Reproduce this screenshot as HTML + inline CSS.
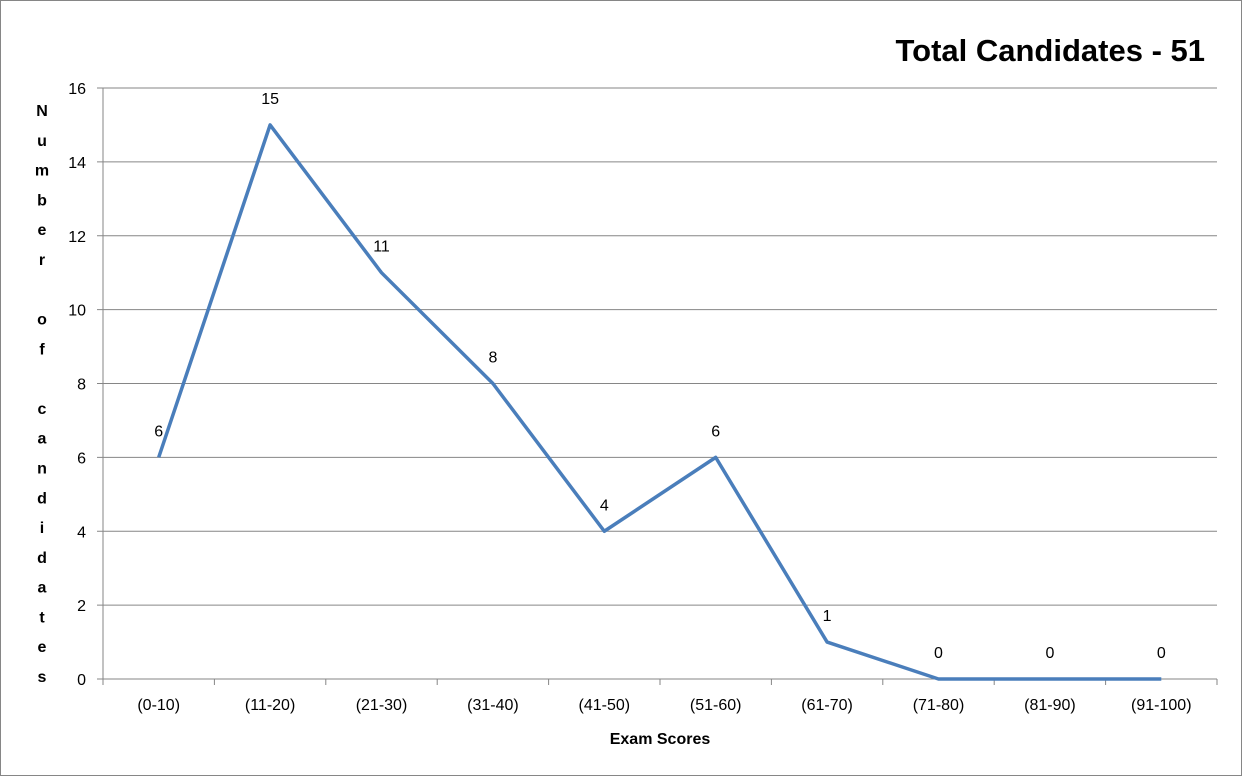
<!DOCTYPE html>
<html><head><meta charset="utf-8"><style>
body{margin:0;background:#fff}
svg{display:block;font-family:"Liberation Sans",sans-serif}
</style></head><body>
<svg id="c" width="1242" height="776">
<rect x="0.5" y="0.5" width="1241" height="775" fill="#fff" stroke="#868686"/>
<text x="1205" y="61" text-anchor="end" font-size="31" font-weight="bold">Total Candidates - 51</text>
<text x="660" y="744" text-anchor="middle" font-size="16" font-weight="bold">Exam Scores</text>
<g id="g"></g>
</svg>
<script>
const categories=["(0-10)","(11-20)","(21-30)","(31-40)","(41-50)","(51-60)","(61-70)","(71-80)","(81-90)","(91-100)"];
const values=[6,15,11,8,4,6,1,0,0,0];
const yTicks=[0,2,4,6,8,10,12,14,16];
const yTitle="Number of candidates";
const NS="http://www.w3.org/2000/svg",g=document.getElementById('g');
const L=103,R=1217,T=88,B=679,yMax=16;
const bw=(R-L)/categories.length;
const xs=i=>L+bw*(i+0.5), ys=v=>B-(v/yMax)*(B-T);
function el(t,a,p){const e=document.createElementNS(NS,t);for(const k in a)e.setAttribute(k,a[k]);(p||g).appendChild(e);return e;}
yTicks.forEach(t=>{
 const y=ys(t);
 if(t>0){const l=el('line',{x1:L,x2:R,y1:y,y2:y,stroke:'#868686','stroke-width':1});
 
 }
 const tk=el('line',{x1:L-6,x2:L,y1:y,y2:y,stroke:'#868686'});
 
 
 const tx=el('text',{x:L-17,y:y+6,'text-anchor':'end','font-size':16});tx.textContent=t;
 
 
});
const ax=el('line',{x1:L,x2:L,y1:T,y2:B,stroke:'#868686'});


const bx=el('line',{x1:L,x2:R,y1:B,y2:B,stroke:'#868686'});


for(let i=0;i<=categories.length;i++){const x=L+bw*i;const t=el('line',{x1:x,x2:x,y1:B,y2:B+6,stroke:'#868686'});
 
 }
categories.forEach((c,i)=>{const t=el('text',{x:xs(i),y:B+31,'text-anchor':'middle','font-size':16});t.textContent=c;
 
 });
const pl=el('polyline',{points:values.map((v,i)=>xs(i)+','+ys(v)).join(' '),fill:'none',stroke:'#4a7ebb','stroke-width':3.5,'stroke-linejoin':'round'});


values.forEach((v,i)=>{const t=el('text',{x:xs(i),y:ys(v)-21,'text-anchor':'middle','font-size':16});t.textContent=v;
 
 });
const chars=yTitle.split('');const step=(676-110)/(chars.length-1);
chars.forEach((ch,i)=>{if(ch===' ')return;const t=el('text',{x:42,y:110+step*i+6,'text-anchor':'middle','font-size':16,'font-weight':'bold'});t.textContent=ch;
 
 });
</script>
</body></html>
